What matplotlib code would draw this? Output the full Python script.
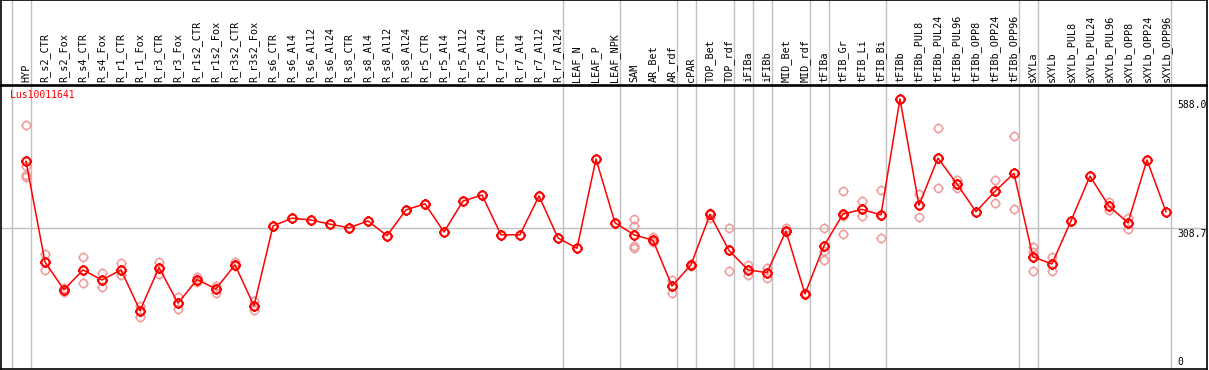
import matplotlib
matplotlib.use("Agg")
import matplotlib.pyplot as plt
from matplotlib.path import Path

# categories (x axis, shown as rotated labels in the header strip)
categories = ["HYP", "R_s2_CTR", "R_s2_Fox", "R_s4_CTR", "R_s4_Fox", "R_r1_CTR", "R_r1_Fox",
              "R_r3_CTR", "R_r3_Fox", "R_r1s2_CTR", "R_r1s2_Fox", "R_r3s2_CTR", "R_r3s2_Fox",
              "R_s6_CTR", "R_s6_Al4", "R_s6_Al12", "R_s6_Al24", "R_s8_CTR", "R_s8_Al4",
              "R_s8_Al12", "R_s8_Al24", "R_r5_CTR", "R_r5_Al4", "R_r5_Al12", "R_r5_Al24",
              "R_r7_CTR", "R_r7_Al4", "R_r7_Al12", "R_r7_Al24", "LEAF_N", "LEAF_P", "LEAF_NPK",
              "SAM", "AR_Bet", "AR_rdf", "cPAR", "TOP_Bet", "TOP_rdf", "iFIBa", "iFIBb",
              "MID_Bet", "MID_rdf", "tFIBa", "tFIB_Gr", "tFIB_Li", "tFIB_Bi", "tFIBb",
              "tFIBb_PUL8", "tFIBb_PUL24", "tFIBb_PUL96", "tFIBb_OPP8", "tFIBb_OPP24",
              "tFIBb_OPP96", "sXYLa", "sXYLb", "sXYLb_PUL8", "sXYLb_PUL24", "sXYLb_PUL96",
              "sXYLb_OPP8", "sXYLb_OPP24", "sXYLb_OPP96"]

# mean expression per sample
means = [453, 235, 175, 218, 196, 218, 130, 223, 146, 197, 177, 229, 140,
         313, 330, 326, 317, 309, 324, 292, 348, 361, 300, 367, 380, 294, 294, 378, 287,
         265, 458, 320, 294, 282, 183, 229, 338, 260, 218, 212, 302, 166,
         270, 339, 349, 337, 588, 358, 460, 404, 344, 388, 427,
         246, 231, 324, 421, 356, 320, 456, 344]

# individual replicates (same order as categories)
replicates = [[531, 443, 423, 418], [253, 218], [178, 170], [246, 190], [212, 181],
              [232, 207], [139, 117], [234, 210], [159, 133], [203, 192], [184, 169],
              [236, 227], [151, 131],
              [], [], [], [], [], [], [], [], [], [], [], [], [], [], [], [],
              [], [], [],
              [329, 313, 270, 265], [290, 279], [197, 168], [231, 227], [342, 330],
              [309, 216], [229, 208], [223, 200], [308, 299], [168, 165],
              [309, 259, 240], [389, 334, 295], [367, 335], [391, 287], [],
              [383, 333], [525, 395], [413, 395], [], [412, 363], [508, 350],
              [268, 256, 216], [245, 215], [], [], [364, 348], [331, 307], [], []]

# sample groups end after these indices (grey separators)
group_ends = [-1, 0, 28, 31, 34, 35, 37, 38, 39, 41, 42, 45, 52, 53, 60]

gene = "Lus10011641"
ref_value = 308.7
axis_labels = ["588.0", "308.7", "0"]
axis_values = [588.0, 308.7, 0.0]

W, H = 1209, 370
fig = plt.figure(figsize=(W / 100, H / 100), dpi=100)
fig.patch.set_facecolor("white")

left = 1 / W
width = 1206 / W
hdr = fig.add_axes([left, 1 - 85 / H, width, 85 / H])
ax = fig.add_axes([left, 1 - 369 / H, width, 283 / H], sharex=hdr)

ax.set_xlim(-1.316, 62.16)
ax.set_ylim(3.5, 616)
hdr.set_ylim(0, 1)

for a in (ax, hdr):
    a.set_xticks([])
    a.set_yticks([])
    for s in a.spines.values():
        s.set_color("black")
        s.set_linewidth(1.2)

mono = "DejaVu Sans Mono"
for i, name in enumerate(categories):
    hdr.text(i, 0.035, name, rotation=90, ha="center", va="bottom",
             fontsize=7.3, family=mono, color="black")

for k in group_ends:
    hdr.axvline(k + 0.25, color="#c0c0c0", lw=1.0, zorder=0)
    ax.axvline(k + 0.25, color="#c0c0c0", lw=1.0, zorder=0)

ax.axhline(ref_value, color="#c0c0c0", lw=1.0, zorder=0)

# circle marker with small ticks
circ = Path.unit_circle()
ticks = [Path([(0, 1), (0, 1.3)], [Path.MOVETO, Path.LINETO]),
         Path([(0, -1), (0, -1.3)], [Path.MOVETO, Path.LINETO]),
         Path([(1, 0), (1.3, 0)], [Path.MOVETO, Path.LINETO]),
         Path([(-1, 0), (-1.3, 0)], [Path.MOVETO, Path.LINETO])]
gear = Path.make_compound_path(circ, *ticks)

xs = list(range(len(categories)))
for i, reps in enumerate(replicates):
    if reps:
        ax.plot([i] * len(reps), reps, linestyle="none", marker=gear, markersize=7.4,
                mfc="none", mec="#f09a9a", mew=1.1, zorder=2)

ax.plot(xs, means, color="red", lw=1.1, zorder=3)
ax.plot(xs, means, linestyle="none", marker=gear, markersize=7.6,
        mfc="none", mec="red", mew=1.5, zorder=4)

ax.text(0.0075, 0.985, gene, transform=ax.transAxes, ha="left", va="top",
        fontsize=7.0, family=mono, color="red")

xr = 60.62
for lab, v in zip(axis_labels, axis_values):
    if v <= 0:
        ax.text(xr, 8, lab, ha="left", va="bottom", fontsize=7.0, family=mono)
    else:
        ax.text(xr, v - 3, lab, ha="left", va="top", fontsize=7.0, family=mono)

fig.savefig("out.png", dpi=100, facecolor="white")
